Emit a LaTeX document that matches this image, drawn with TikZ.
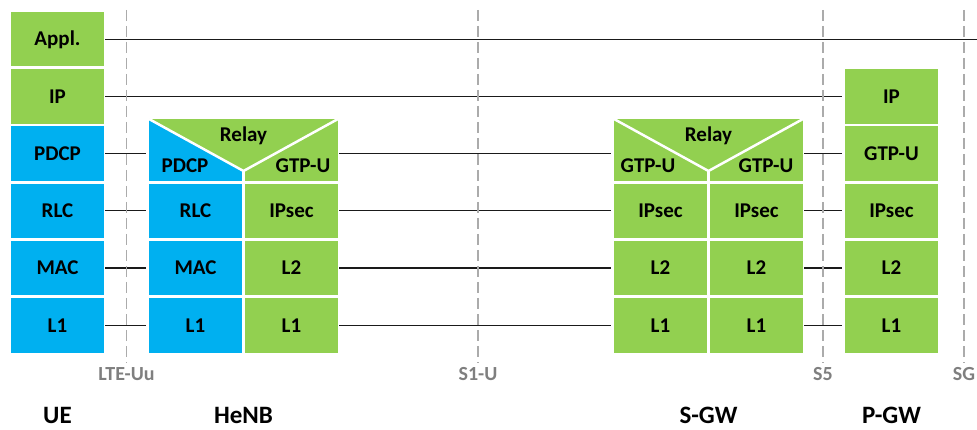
\documentclass[tikz,border=0pt]{standalone}
\usepackage{fontspec}
\setmainfont{Carlito}
\definecolor{lgreen}{HTML}{92D050}
\definecolor{lblue}{HTML}{00B0F0}
\definecolor{ifgray}{HTML}{ABABAB}
\definecolor{lblgray}{HTML}{7F7F7F}
\definecolor{linecol}{HTML}{1A1A1A}
\begin{document}
\begin{tikzpicture}[x=1pt,y=-1pt,
  layer/.style={minimum width=93pt, minimum height=54.5pt, inner sep=0pt,
    font=\bfseries\fontsize{21}{21}\selectfont, text height=13.5pt, text depth=0pt},
  g/.style={layer, fill=lgreen},
  b/.style={layer, fill=lblue},
  half/.style={layer},
  link/.style={line width=1.3pt, draw=linecol, shorten <=1pt, shorten >=2.5pt},
  iface/.style={draw=ifgray, line width=1.5pt, dash pattern=on 11pt off 5pt},
  iflabel/.style={text=lblgray, font=\bfseries\fontsize{20}{20}\selectfont, anchor=base, inner sep=0pt},
  entity/.style={font=\bfseries\fontsize{25}{25}\selectfont, anchor=base, inner sep=0pt},
  relaytxt/.style={font=\bfseries\fontsize{21}{21}\selectfont, anchor=base, inner sep=0pt},
  sep/.style={draw=white, line width=2.5pt}]

\useasboundingbox (0,0) rectangle (977,430);

% ---------- relay blocks (HeNB and S-GW) ----------
\fill[lgreen] (149,119) rectangle (338,181);
\fill[lblue] (149,119) -- (243.5,171) -- (243.5,181) -- (149,181) -- cycle;
\draw[sep] (149,119) -- (243.5,171) -- (338,119);
\draw[white, line width=3pt] (243.5,171) -- (243.5,182);

\fill[lgreen] (614,119) rectangle (803,181);
\draw[sep] (614,119) -- (708.5,171) -- (803,119);
\draw[white, line width=3pt] (708.5,171) -- (708.5,182);

\node[relaytxt] (hn-relay) at (243.5,142) {Relay};
\node[relaytxt] (hn-pdcp) at (185,173) {PDCP};
\node[relaytxt] (hn-gtpu) at (303,173) {GTP-U};
\node[relaytxt] (sg-relay) at (708.5,142) {Relay};
\node[relaytxt] (sg-gtpl) at (648,173) {GTP-U};
\node[relaytxt] (sg-gtpr) at (766,173) {GTP-U};

% ---------- UE stack ----------
\node[g] (ue0) at (57.5,39.25) {Appl.};
\node[g] (ue1) at (57.5,96.45) {IP};
\node[b] (ue2) at (57.5,153.65) {PDCP};

% relay halves (row 2), used as connector ends
\node[half] (hnl2) at (195.5,153.65) {};
\node[half] (hnr2) at (291.5,153.65) {};
\node[half] (sgl2) at (660.5,153.65) {};
\node[half] (sgr2) at (756.5,153.65) {};

% ---------- P-GW upper layers ----------
\node[g] (pg1) at (891.5,96.45) {IP};
\node[g] (pg2) at (891.5,153.65) {GTP-U};

% ---------- lower layers ----------
\foreach \k/\ue/\hl/\hr in {3/RLC/RLC/IPsec, 4/MAC/MAC/L2, 5/L1/L1/L1}{
  \pgfmathsetmacro\yy{39.25+57.2*\k}
  \node[b] (ue\k)  at (57.5,\yy)  {\ue};
  \node[b] (hnl\k) at (195.5,\yy) {\hl};
  \node[g] (hnr\k) at (291.5,\yy) {\hr};
  \node[g] (sgl\k) at (660.5,\yy) {\hr};
  \node[g] (sgr\k) at (756.5,\yy) {\hr};
  \node[g] (pg\k)  at (891.5,\yy) {\hr};
}

% ---------- peer links ----------
\coordinate (app-end) at (977,39.25);
\draw[link, shorten >=0pt] (ue0) -- (app-end);
\draw[link] (ue1) -- (pg1);
\draw[link] (ue2) -- (hnl2);
\draw[link] (hnr2) -- (sgl2);
\draw[link] (sgr2) -- (pg2);
\foreach \k in {3,4,5}{
  \draw[link] (ue\k) -- (hnl\k);
  \draw[link] (hnr\k) -- (sgl\k);
  \draw[link] (sgr\k) -- (pg\k);
}

% ---------- interfaces ----------
\foreach \n/\x/\t in {uu/126.5/LTE-Uu, s1/478/S1-U, s5/823/S5, sg/964/SG}{
  \coordinate (\n-top) at (\x,10);
  \coordinate (\n-bot) at (\x,363);
  \draw[iface] (\n-top) -- (\n-bot);
  \node[iflabel] (\n-lbl) at (\x,380) {\t};
}

% ---------- network elements ----------
\node[entity] (lbl-ue)   at (57.5,423.5)  {UE};
\node[entity] (lbl-henb) at (243.5,423.5) {HeNB};
\node[entity] (lbl-sgw)  at (708.5,423.5) {S-GW};
\node[entity] (lbl-pgw)  at (891.5,423.5) {P-GW};
\end{tikzpicture}
\end{document}
